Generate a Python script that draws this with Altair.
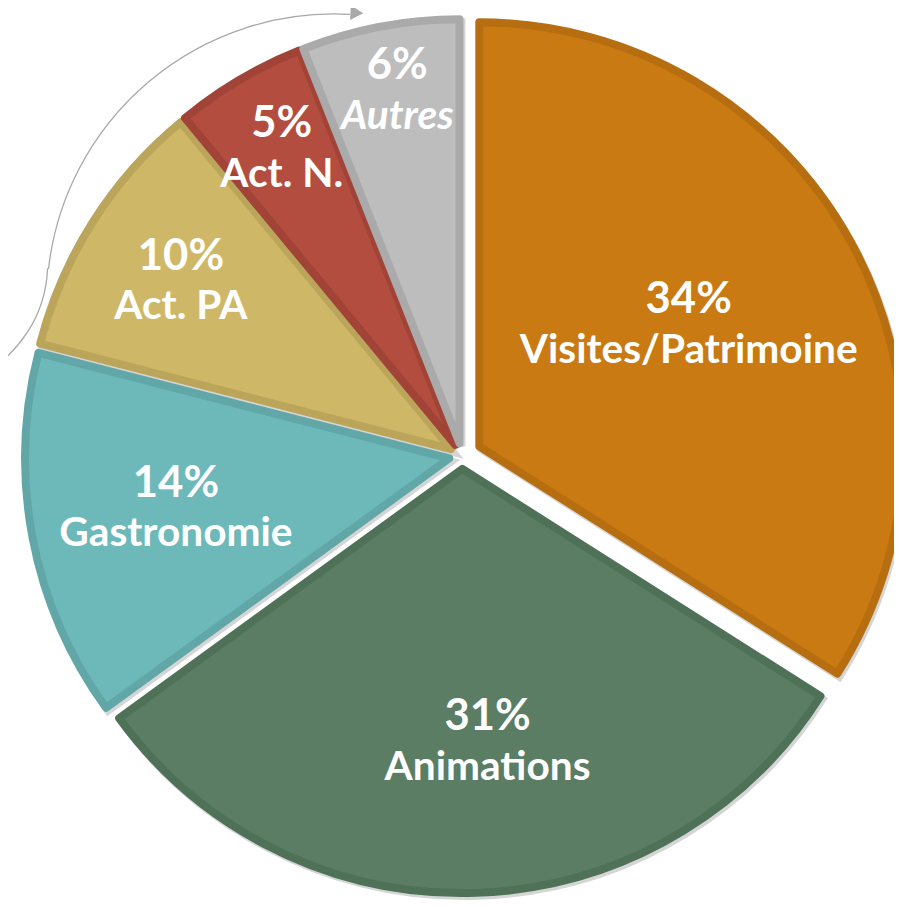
import altair as alt
import pandas as pd

# ---------------- data ----------------
categories = ["Visites/Patrimoine", "Animations", "Gastronomie", "Act. PA", "Act. N.", "Autres"]
values = [34, 31, 14, 10, 5, 6]

# ---------------- style ----------------
fill_colors = ["#C97A12", "#5A7D63", "#6DB9BA", "#CEB867", "#B24D3F", "#BDBDBD"]
edge_colors = ["#B66E10", "#4E7157", "#61A7A8", "#BBA55B", "#A14337", "#AAAAAA"]
explode = [20, 13, 13, 13, 13, 13]                    # px each slice is pulled out
label_radius = [258, 303, 296, 327, 348, 361]        # px from pie centre
label_nudge_deg = [1.3, -3.1, -2.1, -2.5, -0.9, 0.4]  # angular nudge of label
ITALIC_CAT = "Autres"

W, H = 894, 896
CX, CY = 458, 448
R = 428
FONT = "Lato"
FS_PCT = 44
FS_NAME = 41

df = pd.DataFrame({
    "cat": categories,
    "value": values,
    "order": list(range(len(categories))),
    "ex": explode,
    "lr": label_radius,
    "nudge": label_nudge_deg,
})

base = (
    alt.Chart(df)
    .transform_window(cum="sum(value)", sort=[alt.SortField("order")])
    .transform_joinaggregate(total="sum(value)")
    .transform_calculate(
        t0="2*PI*(datum.cum - datum.value)/datum.total",
        t1="2*PI*datum.cum/datum.total",
    )
    .transform_calculate(mid="(datum.t0 + datum.t1)/2")
    .transform_calculate(
        px=f"{CX} + datum.ex*sin(datum.mid)",
        py=f"{CY} - datum.ex*cos(datum.mid)",
        la="datum.mid + datum.nudge*PI/180",
        pct="datum.value + '%'",
    )
    .transform_calculate(
        lx=f"{CX} + datum.lr*sin(datum.la)",
        ly=f"{CY} - datum.lr*cos(datum.la)",
    )
)

color_scale = alt.Scale(domain=categories, range=fill_colors)
edge_scale = alt.Scale(domain=categories, range=edge_colors)

shadow = base.mark_arc(radius=R, strokeWidth=8, color="#000000", opacity=0.16).encode(
    theta=alt.Theta("t0:Q", scale=None, stack=None),
    theta2="t1:Q",
    x=alt.X("sx:Q", scale=None, axis=None),
    y=alt.Y("sy:Q", scale=None, axis=None),
    stroke=alt.value("#000000"),
).transform_calculate(sx="datum.px + 2", sy="datum.py + 3")

slices = base.mark_arc(radius=R, strokeWidth=8, strokeJoin="round").encode(
    theta=alt.Theta("t0:Q", scale=None, stack=None),
    theta2="t1:Q",
    x=alt.X("px:Q", scale=None, axis=None),
    y=alt.Y("py:Q", scale=None, axis=None),
    color=alt.Color("cat:N", scale=color_scale, legend=None),
    stroke=alt.Stroke("cat:N", scale=edge_scale, legend=None),
)

pct_text = base.mark_text(
    font=FONT, fontWeight="bold", fontSize=FS_PCT, color="white",
    baseline="alphabetic", align="center", dy=-25,
).encode(
    x=alt.X("lx:Q", scale=None, axis=None),
    y=alt.Y("ly:Q", scale=None, axis=None),
    text="pct:N",
)

name_text = base.transform_filter(alt.datum.cat != ITALIC_CAT).mark_text(
    font=FONT, fontWeight="bold", fontSize=FS_NAME, color="white",
    baseline="alphabetic", align="center", dy=25,
).encode(
    x=alt.X("lx:Q", scale=None, axis=None),
    y=alt.Y("ly:Q", scale=None, axis=None),
    text="cat:N",
)

name_italic = base.transform_filter(alt.datum.cat == ITALIC_CAT).mark_text(
    font=FONT, fontWeight="bold", fontStyle="italic", fontSize=FS_NAME, color="white",
    baseline="alphabetic", align="center", dy=25,
).encode(
    x=alt.X("lx:Q", scale=None, axis=None),
    y=alt.Y("ly:Q", scale=None, axis=None),
    text="cat:N",
)

# decorative arrow around the top-left of the pie
arrow_main = alt.Chart(df.head(1)).mark_arc(
    radius=290, radius2=290, theta=4.826, theta2=6.339,
    fillOpacity=0, stroke="#A8A8A8", strokeWidth=1.3,
).encode(x=alt.value(329), y=alt.value(292))

arrow_tail = alt.Chart(df.head(1)).mark_arc(
    radius=127, radius2=127, theta=1.606, theta2=2.70,
    fillOpacity=0, stroke="#A8A8A8", strokeWidth=1.3,
).encode(x=alt.value(-87), y=alt.value(254))

arrow_head = alt.Chart(df.head(1)).mark_point(
    shape="triangle-right", filled=True, size=220, color="#A8A8A8", opacity=1, angle=3,
).encode(x=alt.value(352), y=alt.value(1))

chart = (
    alt.layer(arrow_main, arrow_tail, arrow_head, shadow, slices, pct_text, name_text, name_italic)
    .properties(width=W, height=H, autosize="none", padding=0)
    .configure_view(stroke=None)
)

chart.save("out.html", embed_options={"renderer": "svg", "actions": False})
